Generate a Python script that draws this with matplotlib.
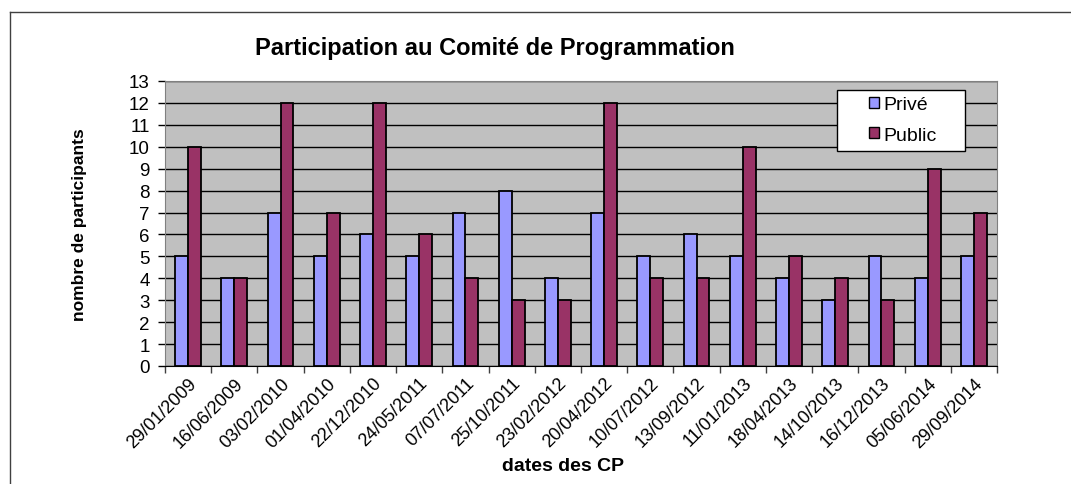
import matplotlib.pyplot as plt
import numpy as np
from matplotlib.lines import Line2D
from matplotlib.patches import Rectangle

plt.rcParams['font.family'] = ['Liberation Sans', 'DejaVu Sans']

dates = ['29/01/2009', '16/06/2009', '03/02/2010', '01/04/2010', '22/12/2010',
         '24/05/2011', '07/07/2011', '25/10/2011', '23/02/2012', '20/04/2012',
         '10/07/2012', '13/09/2012', '11/01/2013', '18/04/2013', '14/10/2013',
         '16/12/2013', '05/06/2014', '29/09/2014']
prive = [5, 4, 7, 5, 6, 5, 7, 8, 4, 7, 5, 6, 5, 4, 3, 5, 4, 5]
public = [10, 4, 12, 7, 12, 6, 4, 3, 3, 12, 4, 4, 10, 5, 4, 3, 9, 7]

W, H = 1071, 485
fig = plt.figure(figsize=(W / 100, H / 100), dpi=100)
ax = fig.add_axes([165 / W, 1 - 367 / H, 832 / W, 285 / H])
ax.set_facecolor('#C0C0C0')

# outer chart frame (left + top)
fig.add_artist(Line2D([10 / W, 10 / W], [0, 1 - 13 / H], color='#404040', lw=1))
fig.add_artist(Line2D([10 / W, 1], [1 - 13 / H, 1 - 13 / H], color='#404040', lw=1))

x = np.arange(len(dates))
w = 0.28
ax.bar(x - w / 2, prive, w, color='#9999FF', edgecolor='black', linewidth=1.3,
       label='Privé', zorder=3)
ax.bar(x + w / 2, public, w, color='#993366', edgecolor='black', linewidth=1.3,
       label='Public', zorder=3)

ax.set_xlim(-0.5, len(dates) - 0.5)
ax.set_ylim(0, 13)
ax.set_yticks(range(14))
ax.yaxis.grid(True, color='black', linewidth=1, zorder=1)
ax.set_axisbelow(True)

ax.set_xticks(np.arange(len(dates) + 1) - 0.5)
ax.set_xticklabels([])
ax.set_xticks(x, minor=True)
ax.set_xticklabels(dates, minor=True, rotation=45, ha='right', va='top',
                   rotation_mode='anchor', fontsize=13)
ax.tick_params(axis='x', which='minor', length=0, pad=6)
ax.tick_params(axis='x', which='major', length=5, width=1, color='#404040')
ax.tick_params(axis='y', length=5, width=1, labelsize=13.5, pad=6)

for s in ['top', 'right', 'left']:
    ax.spines[s].set_color('#808080')
ax.spines['bottom'].set_color('black')

ax.set_ylabel('nombre de participants', fontsize=12.5, fontweight='bold', labelpad=30)
fig.text(563 / W, 1 - 467 / H, 'dates des CP', fontsize=14, fontweight='bold',
         ha='center', va='center')
fig.text(495 / W, 1 - 48 / H, 'Participation au Comité de Programmation',
         fontsize=17, fontweight='bold', ha='center', va='center')

# legend box
ax.add_patch(Rectangle((837 / W, 1 - 152 / H), 128 / W, 61 / H,
                       transform=fig.transFigure, facecolor='white',
                       edgecolor='black', lw=1, zorder=4, clip_on=False))
leg = ax.legend(loc='center', bbox_to_anchor=(903 / W, 1 - 121 / H),
                bbox_transform=fig.transFigure, fontsize=14, frameon=False,
                handlelength=0.5, handleheight=0.5, handletextpad=0.25,
                labelspacing=0.7, borderpad=0.2)
for h in leg.legend_handles:
    h.set_linewidth(1)
leg.set_zorder(6)

fig.savefig('out.png', dpi=100)
